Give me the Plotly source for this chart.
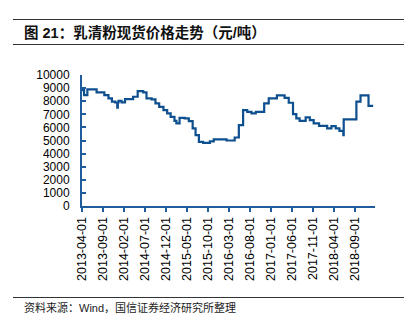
import plotly.graph_objects as go

# Whey powder spot price (yuan/ton), step changes
dates = [
    "2013-04-01", "2013-04-07", "2013-04-16", "2013-05-10", "2013-07-16", "2013-09-10",
    "2013-10-10", "2013-11-04", "2013-11-28", "2013-12-13", "2013-12-17", "2013-12-22",
    "2014-01-13", "2014-02-07", "2014-04-07", "2014-05-10", "2014-06-19", "2014-07-13",
    "2014-08-19", "2014-09-16", "2014-10-13", "2014-11-13", "2014-12-10", "2015-01-04",
    "2015-02-01", "2015-02-15", "2015-03-10", "2015-04-16", "2015-05-16", "2015-06-13",
    "2015-07-04", "2015-07-28", "2015-08-28", "2015-10-16", "2015-11-13", "2016-02-14",
    "2016-04-13", "2016-05-13", "2016-06-13", "2016-07-13", "2016-08-13", "2016-09-13",
    "2016-11-13", "2016-12-16", "2017-02-13", "2017-04-10", "2017-05-10", "2017-06-10",
    "2017-07-04", "2017-07-28", "2017-09-10", "2017-10-10", "2017-11-07", "2017-12-16",
    "2018-02-13", "2018-03-16", "2018-04-16", "2018-05-13", "2018-06-10", "2018-06-13",
    "2018-09-13", "2018-10-13", "2018-12-10", "2019-01-13",
]
prices = [
    8900, 8850, 8470, 8900, 8680, 8470,
    8220, 7960, 7900, 7500, 7900, 8030,
    7910, 8160, 8340, 8775, 8680, 8220,
    8140, 7830, 7570, 7320, 7070, 6810,
    6500, 6300, 6730, 6690, 6480, 5920,
    5410, 4900, 4820, 4930, 5080, 5000,
    5230, 6170, 7320, 7190, 7070, 7190,
    7830, 8220, 8450, 8260, 7880, 7020,
    6690, 6500, 6760, 6560, 6300, 6120,
    5920, 6100, 5920, 5740, 5410, 6610,
    7960, 8450, 7650, 7650,
]

y_ticks = list(range(0, 10001, 1000))
y_tick_labels = [str(v) for v in y_ticks]

title_text = "<b>图 21：乳清粉现货价格走势（元/吨）</b>"
source_text = "资料来源：Wind，国信证券经济研究所整理"

W, H = 412, 322
L, R, T, B = 82, 375, 75, 206
axis_color = "#1f5c9e"
line_color = "#0d4f8f"


def px(x):
    return (x - L) / (R - L)


def py(y):
    return (B - y) / (B - T)


fig = go.Figure(
    go.Scatter(
        x=dates, y=prices, mode="lines", line_shape="hv",
        line=dict(color=line_color, width=2.2),
    )
)

rule = dict(color="#333333", width=1.2)
fig.update_layout(
    width=W, height=H,
    margin=dict(l=L, r=W - R, t=T, b=H - B),
    paper_bgcolor="white", plot_bgcolor="white",
    showlegend=False,
    font=dict(family="Liberation Sans, Arial, Noto Sans CJK SC", color="#000000", size=12),
    xaxis=dict(
        type="date", range=["2013-04-01", "2019-01-26"],
        tick0="2013-04-01", dtick="M5", tickformat="%Y-%m-%d",
        tickangle=-90, ticks="outside", ticklen=4, tickwidth=1.5, tickcolor=axis_color,
        showline=True, linecolor=axis_color, linewidth=2, showgrid=False, zeroline=False,
        tickfont=dict(size=12.5, color="#000000"),
    ),
    yaxis=dict(
        range=[0, 10000], tickvals=y_ticks, ticktext=y_tick_labels,
        ticks="inside", ticklen=4, tickwidth=1.5,
        tickcolor=axis_color, showline=True, linecolor=axis_color, linewidth=2,
        showgrid=False, zeroline=False, ticklabelstandoff=8,
        tickfont=dict(size=12, color="#000000"),
    ),
    shapes=[
        dict(type="line", xref="paper", yref="paper", x0=px(13), x1=px(404), y0=py(19.5), y1=py(19.5), line=rule),
        dict(type="line", xref="paper", yref="paper", x0=px(13), x1=px(404), y0=py(44.5), y1=py(44.5), line=rule),
        dict(type="line", xref="paper", yref="paper", x0=px(13), x1=px(404), y0=py(297.5), y1=py(297.5), line=rule),
    ],
    annotations=[
        dict(text=title_text, xref="paper", yref="paper", x=px(22), y=py(32),
             xanchor="left", yanchor="middle", showarrow=False,
             font=dict(family="Liberation Sans, Noto Sans CJK SC", size=14.5, color="#111111")),
        dict(text=source_text, xref="paper", yref="paper", x=px(22), y=py(307),
             xanchor="left", yanchor="middle", showarrow=False,
             font=dict(family="Liberation Sans, Noto Sans CJK SC", size=11, color="#222222")),
    ],
)

fig.write_html("out.html")
